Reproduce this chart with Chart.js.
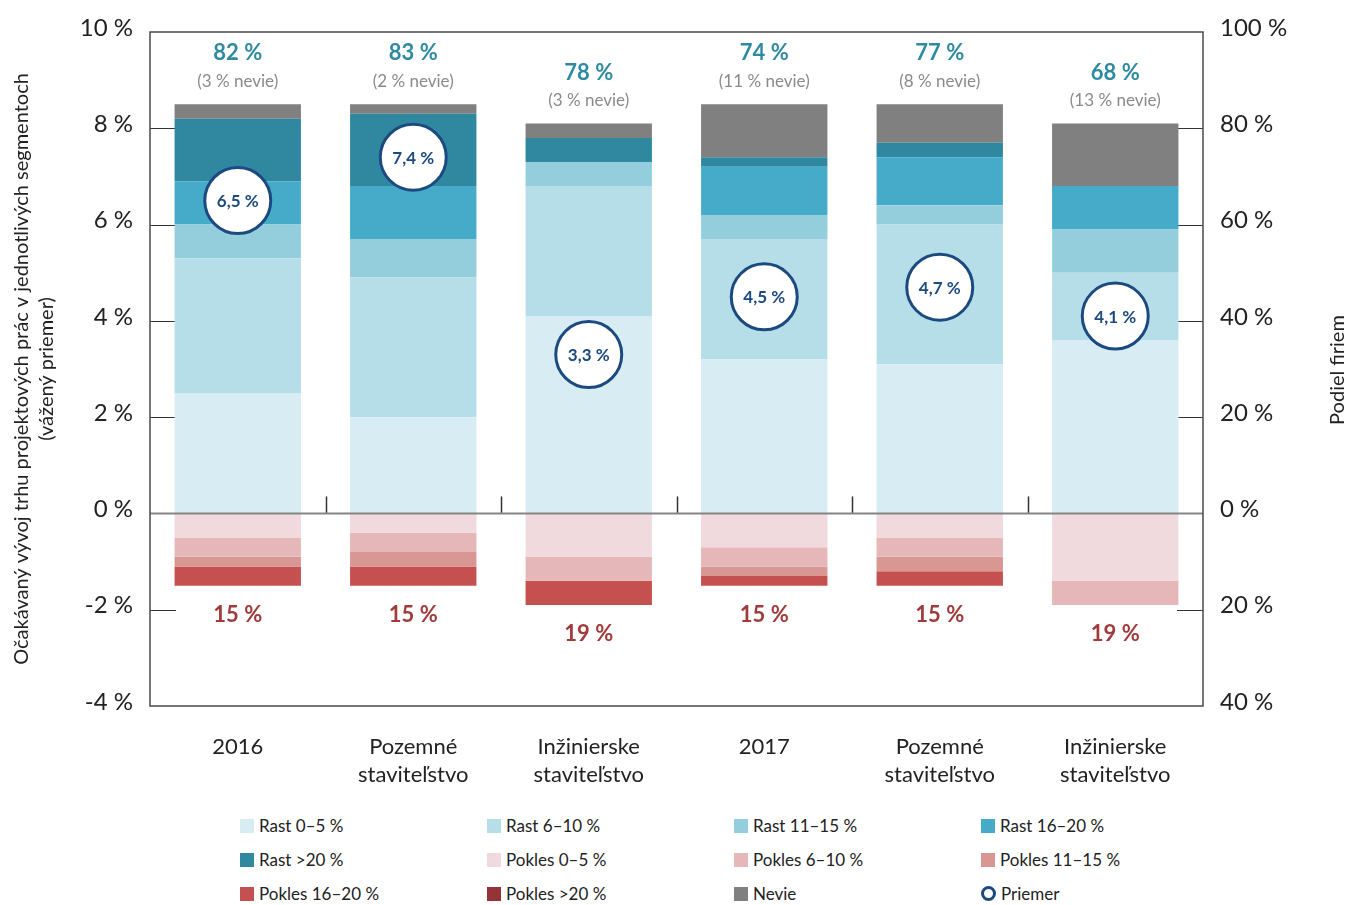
<!DOCTYPE html>
<html>
<head>
<meta charset="utf-8">
<script src="https://cdn.jsdelivr.net/npm/chart.js@4.4.0/dist/chart.umd.min.js"></script>
<style>
  body { margin: 0; background: #fff; font-family: Lato, sans-serif; }
  #wrap { position: relative; width: 1349px; height: 905px; overflow: hidden; }
  #chart { position: absolute; left: 0; top: -4px; }
  #legend { position: absolute; left: 240px; top: 816px; width: 1000px; }
  .item { position: absolute; font-size: 17px; color: #222; white-space: nowrap; line-height: 20px; }
  .box { display: inline-block; width: 14px; height: 14px; vertical-align: -1px; margin-right: 5px; }
  .ring { box-sizing: border-box; border: 3px solid #1c4a80; border-radius: 50%; width: 15px; height: 15px; }
</style>
</head>
<body>
<div id="wrap">
  <canvas id="chart" width="1349" height="810"></canvas>
  <div id="legend"></div>
</div>
<script>
const categories = [['2016'], ['Pozemné', 'staviteľstvo'], ['Inžinierske', 'staviteľstvo'], ['2017'], ['Pozemné', 'staviteľstvo'], ['Inžinierske', 'staviteľstvo']];

// share of firms, %
const rast05 = [25, 20, 41, 32, 31, 36];
const rast610 = [28, 29, 27, 25, 29, 14];
const rast1115 = [7, 8, 5, 5, 4, 9];
const rast1620 = [9, 11, 0, 10, 10, 9];
const rast20 = [13, 15, 5, 2, 3, 0];
const nevie = [3, 2, 3, 11, 8, 13];
const pokles05 = [-5, -4, -9, -7, -5, -14];
const pokles610 = [-4, -4, -5, -4, -4, -5];
const pokles1115 = [-2, -3, 0, -2, -3, 0];
const pokles1620 = [-4, -4, -5, -2, -3, 0];
const pokles20 = [0, 0, 0, 0, 0, 0];

// weighted average, %
const priemer = [6.5, 7.4, 3.3, 4.5, 4.7, 4.1];

const rastLabels = ['82 %', '83 %', '78 %', '74 %', '77 %', '68 %'];
const nevieLabels = ['(3 % nevie)', '(2 % nevie)', '(3 % nevie)', '(11 % nevie)', '(8 % nevie)', '(13 % nevie)'];
const poklesLabels = ['15 %', '15 %', '19 %', '15 %', '15 %', '19 %'];

const leftTicks = [-4, -2, 0, 2, 4, 6, 8, 10];

const series = [
  { label: 'Rast 0–5 %', data: rast05, color: '#d8ecf4' },
  { label: 'Rast 6–10 %', data: rast610, color: '#b6dee8' },
  { label: 'Rast 11–15 %', data: rast1115, color: '#94cedc' },
  { label: 'Rast 16–20 %', data: rast1620, color: '#45abc8' },
  { label: 'Rast >20 %', data: rast20, color: '#2f889f' },
  { label: 'Pokles 0–5 %', data: pokles05, color: '#f0dadd' },
  { label: 'Pokles 6–10 %', data: pokles610, color: '#e6b7b8' },
  { label: 'Pokles 11–15 %', data: pokles1115, color: '#d99794' },
  { label: 'Pokles 16–20 %', data: pokles1620, color: '#c55050' },
  { label: 'Pokles >20 %', data: pokles20, color: '#953438' },
  { label: 'Nevie', data: nevie, color: '#808080' }
];

const FONT = 'Lato, sans-serif';

const datasets = series.map(s => ({
  type: 'bar',
  label: s.label,
  data: s.data,
  backgroundColor: s.color,
  borderWidth: 0,
  yAxisID: 'y2',
  barPercentage: 0.72,
  categoryPercentage: 1.0
}));

datasets.push({
  type: 'line',
  label: 'Priemer',
  data: priemer,
  yAxisID: 'y',
  showLine: false,
  pointRadius: 33,
  pointBackgroundColor: '#ffffff',
  pointBorderColor: '#1c4a80',
  pointBorderWidth: 3,
  order: -1
});

const decorPlugin = {
  id: 'decor',
  beforeDatasetsDraw(chart) {
    const ctx = chart.ctx;
    const a = chart.chartArea;
    const y = chart.scales.y;
    const x = chart.scales.x;
    ctx.save();
    // short tick marks inside the plot
    ctx.strokeStyle = '#333';
    ctx.lineWidth = 1.2;
    leftTicks.forEach(v => {
      if (v === 10 || v === -4 || v === 0) return;
      const py = Math.round(y.getPixelForValue(v)) + 0.5;
      ctx.beginPath();
      ctx.moveTo(a.left, py); ctx.lineTo(a.left + 26, py);
      ctx.moveTo(a.right - 26, py); ctx.lineTo(a.right, py);
      ctx.stroke();
    });
    // category separators above zero line
    const zy = y.getPixelForValue(0);
    ctx.lineWidth = 1.5;
    for (let i = 1; i < categories.length; i++) {
      const px = Math.round((x.getPixelForValue(i - 1) + x.getPixelForValue(i)) / 2) + 0.5;
      ctx.beginPath();
      ctx.moveTo(px, zy - 17); ctx.lineTo(px, zy);
      ctx.stroke();
    }
    ctx.restore();
  },
  afterDatasetsDraw(chart) {
    const ctx = chart.ctx;
    const a = chart.chartArea;
    const y = chart.scales.y;
    ctx.save();
    // zero line
    const zy = y.getPixelForValue(0);
    ctx.strokeStyle = '#858585';
    ctx.lineWidth = 2;
    ctx.beginPath();
    ctx.moveTo(a.left, zy); ctx.lineTo(a.right, zy);
    ctx.stroke();
    // frame
    ctx.strokeStyle = '#4a4a4a';
    ctx.lineWidth = 1.5;
    ctx.strokeRect(a.left, a.top, a.right - a.left, a.bottom - a.top);

    const pMeta = chart.getDatasetMeta(chart.data.datasets.length - 1);
    const topMeta = chart.getDatasetMeta(series.length - 1); // Nevie
    ctx.textAlign = 'center';
    ctx.textBaseline = 'middle';
    categories.forEach((c, i) => {
      const bx = topMeta.data[i].x;
      const top = topMeta.data[i].y;
      ctx.font = 'bold 22px ' + FONT;
      ctx.fillStyle = '#2e8aa0';
      ctx.fillText(rastLabels[i], bx, top - 51);
      ctx.font = '17px ' + FONT;
      ctx.fillStyle = '#8a8a8a';
      ctx.fillText(nevieLabels[i], bx, top - 23);

      // lowest negative bar bottom
      let bottom = zy;
      for (let d = 5; d <= 9; d++) {
        const el = chart.getDatasetMeta(d).data[i];
        if (series[d].data[i] !== 0) bottom = Math.max(bottom, el.y);
      }
      ctx.font = 'bold 22px ' + FONT;
      ctx.fillStyle = '#a13a3a';
      ctx.fillText(poklesLabels[i], bx, bottom + 29);

      const pt = pMeta.data[i];
      ctx.font = 'bold 17px ' + FONT;
      ctx.fillStyle = '#1c4a80';
      ctx.fillText(priemer[i].toFixed(1).replace('.', ',') + ' %', pt.x, pt.y + 1);
    });

    // axis titles
    ctx.fillStyle = '#222';
    ctx.font = '20px ' + FONT;
    ctx.save();
    ctx.translate(22, 373);
    ctx.rotate(-Math.PI / 2);
    ctx.fillText('Očakávaný vývoj trhu projektových prác v jednotlivých segmentoch', 0, 0);
    ctx.fillText('(vážený priemer)', 0, 25);
    ctx.restore();
    ctx.save();
    ctx.translate(1338, 374);
    ctx.rotate(-Math.PI / 2);
    ctx.fillText('Podiel firiem', 0, 0);
    ctx.restore();
    ctx.restore();
  }
};

const noPad = s => { s.paddingTop = 0; s.paddingBottom = 0; };

new Chart(document.getElementById('chart').getContext('2d'), {
  data: { labels: categories, datasets: datasets },
  options: {
    responsive: false,
    animation: false,
    layout: { padding: { top: 35, bottom: 0, left: 0, right: 0 } },
    plugins: { legend: { display: false }, tooltip: { enabled: false } },
    scales: {
      x: {
        stacked: true,
        grid: { display: false, drawTicks: false },
        border: { display: false },
        ticks: { color: '#222', font: { family: FONT, size: 22, lineHeight: 1.27 }, padding: 27, maxRotation: 0 },
        afterFit: s => { s.height = 100; }
      },
      y: {
        position: 'left',
        min: -4,
        max: 10,
        afterBuildTicks: s => { s.ticks = leftTicks.map(v => ({ value: v })); },
        grid: { display: false, drawTicks: false },
        border: { display: false },
        ticks: { color: '#222', font: { family: FONT, size: 24 }, padding: 17, labelOffset: -4, callback: v => v + ' %' },
        afterFit: s => { s.width = 150; noPad(s); }
      },
      y2: {
        position: 'right',
        stacked: true,
        min: -40,
        max: 100,
        afterBuildTicks: s => { s.ticks = leftTicks.map(v => ({ value: v * 10 })); },
        grid: { display: false, drawTicks: false },
        border: { display: false },
        ticks: { color: '#222', font: { family: FONT, size: 24 }, padding: 17, labelOffset: -4, callback: v => Math.abs(v) + ' %' },
        afterFit: s => { s.width = 146; noPad(s); }
      }
    }
  },
  plugins: [decorPlugin]
});

// legend in 4 columns
const legend = document.getElementById('legend');
const legendItems = series.concat([{ label: 'Priemer', ring: true }]);
legendItems.forEach((s, i) => {
  const div = document.createElement('div');
  div.className = 'item';
  div.style.left = (i % 4) * 247 + 'px';
  div.style.top = Math.floor(i / 4) * 34 + 'px';
  const box = document.createElement('span');
  box.className = s.ring ? 'box ring' : 'box';
  if (!s.ring) box.style.background = s.color;
  div.appendChild(box);
  div.appendChild(document.createTextNode(s.label));
  legend.appendChild(div);
});
</script>
</body>
</html>
